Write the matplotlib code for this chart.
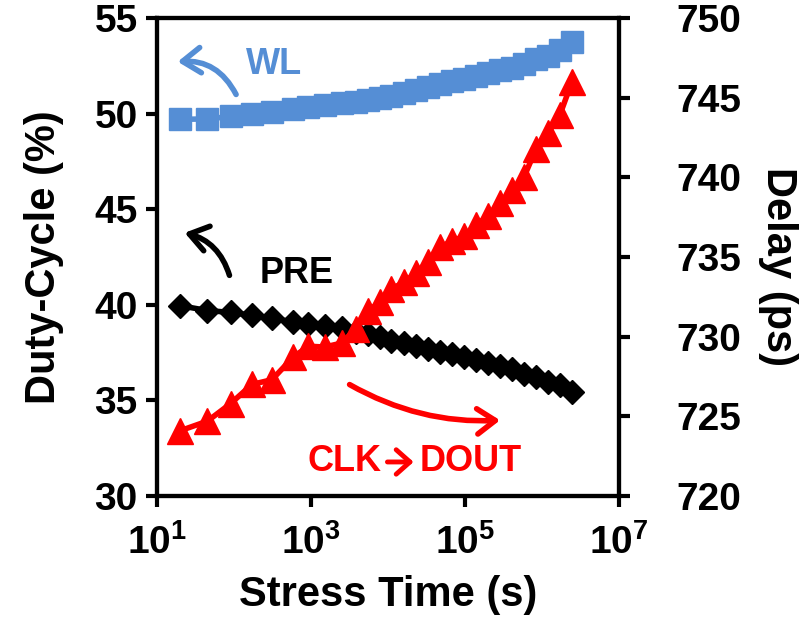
import numpy as np
import matplotlib.pyplot as plt
from matplotlib.ticker import FuncFormatter, FixedLocator

plt.rcParams['font.family'] = ['Liberation Sans', 'DejaVu Sans']
plt.rcParams['font.weight'] = 'bold'
plt.rcParams['mathtext.fontset'] = 'custom'
plt.rcParams['mathtext.rm'] = 'Liberation Sans:bold'
plt.rcParams['mathtext.bf'] = 'Liberation Sans:bold'

# stress time (s), shared by all three series
stress_time = [20, 45, 90, 170, 310, 580, 920, 1500, 2500, 3800, 5500, 7900,
               11000, 16000, 23000, 33000, 47000, 68000, 97000, 139000,
               200000, 285000, 410000, 580000, 840000, 1200000, 1700000, 2450000]

# duty-cycle (%) of WL and PRE
wl_duty = [49.7, 49.72, 49.85, 50.0, 50.1, 50.25, 50.33, 50.43, 50.55, 50.63,
           50.7, 50.8, 50.93, 51.1, 51.23, 51.4, 51.55, 51.68, 51.8, 51.97,
           52.13, 52.27, 52.4, 52.6, 52.85, 53.0, 53.3, 53.75]
pre_duty = [39.95, 39.7, 39.6, 39.45, 39.3, 39.1, 39.0, 38.9, 38.8, 38.6,
            38.45, 38.3, 38.1, 38.0, 37.85, 37.7, 37.55, 37.45, 37.25, 37.1,
            36.95, 36.8, 36.65, 36.4, 36.2, 35.95, 35.8, 35.45]

# CLK->DOUT delay (ps)
clk_delay = [724.1, 724.7, 725.8, 727.0, 727.3, 728.7, 729.4, 729.35, 729.6,
             730.5, 731.6, 732.2, 733.0, 733.4, 734.0, 734.7, 735.6, 736.0,
             736.3, 737.0, 737.6, 738.4, 739.2, 740.0, 741.8, 742.8, 743.9, 746.0]

blue = '#558ED5'
red = '#FF0000'

fig = plt.figure(figsize=(8.06, 6.2), dpi=100)
ax1 = fig.add_axes([0.195, 0.2, 0.573, 0.771])

ax1.plot(stress_time, wl_duty, color=blue, lw=4, marker='s', ms=16, mec=blue)
ax1.plot(stress_time, pre_duty, color='black', lw=4, marker='D', ms=12, mec='black')
ax1.set_xscale('log')
ax1.set_xlim(10, 1e7)
ax1.set_ylim(30, 55)
ax1.xaxis.set_major_locator(FixedLocator([1e1, 1e3, 1e5, 1e7]))
ax1.xaxis.set_minor_locator(FixedLocator([]))
ax1.xaxis.set_major_formatter(FuncFormatter(lambda v, p: r'$\mathbf{10^{%d}}$' % round(np.log10(v))))
ax1.set_yticks([30, 35, 40, 45, 50, 55])

ax2 = ax1.twinx()
ax2.plot(stress_time, clk_delay, color=red, lw=4, marker='^', ms=19, mec=red)
ax2.set_ylim(720, 750)
ax2.set_yticks([720, 725, 730, 735, 740, 745, 750])

for ax in (ax1, ax2):
    for s in ax.spines.values():
        s.set_linewidth(3)
    ax.tick_params(axis='both', which='major', direction='out', length=8, width=3,
                   labelsize=28, pad=6)
ax1.tick_params(axis='x', pad=12)
ax2.tick_params(axis='y', pad=33)

ax1.set_xlabel('Stress Time (s)', fontsize=30, fontweight='bold', labelpad=10)
ax1.set_ylabel('Duty-Cycle (%)', fontsize=30, fontweight='bold', labelpad=22)
ax2.set_ylabel('Delay (ps)', fontsize=30, fontweight='bold', rotation=-90,
               ha='center', va='center')
ax2.yaxis.set_label_coords(1.345, 0.48)

# annotations
ax1.text(330, 52.55, 'WL', color=blue, fontsize=26, fontweight='bold', ha='center', va='center')
ax1.text(640, 41.66, 'PRE', color='black', fontsize=26, fontweight='bold', ha='center', va='center')
clk_x, clk_y = 14500, 31.78
ax1.annotate('CLK', xy=(clk_x, clk_y), xytext=(-14, 0), textcoords='offset points',
             color=red, fontsize=26, fontweight='bold', ha='right', va='center')
ax1.annotate('DOUT', xy=(clk_x, clk_y), xytext=(14, 0), textcoords='offset points',
             color=red, fontsize=26, fontweight='bold', ha='left', va='center')
ax1.annotate('', xy=(clk_x * 10 ** 0.17, clk_y), xytext=(clk_x / 10 ** 0.17, clk_y),
             arrowprops=dict(arrowstyle='->,head_length=0.45,head_width=0.4', color=red,
                             lw=3.5, mutation_scale=22, shrinkA=0, shrinkB=0))

arrow_kw = dict(arrowstyle='->,head_length=0.5,head_width=0.35', lw=4, mutation_scale=26,
                capstyle='round', joinstyle='round')
ax1.annotate('', xy=(17, 52.7), xytext=(110, 50.87),
             arrowprops=dict(color=blue, connectionstyle='arc3,rad=0.35', **arrow_kw))
ax1.annotate('', xy=(21, 43.8), xytext=(89, 41.4),
             arrowprops=dict(color='black', connectionstyle='arc3,rad=0.3', **arrow_kw))
ax1.annotate('', xy=(3.1e5, 33.97), xytext=(2940, 35.9),
             arrowprops=dict(color=red, connectionstyle='arc3,rad=0.15', **arrow_kw))

fig.savefig('out.png', dpi=100)
